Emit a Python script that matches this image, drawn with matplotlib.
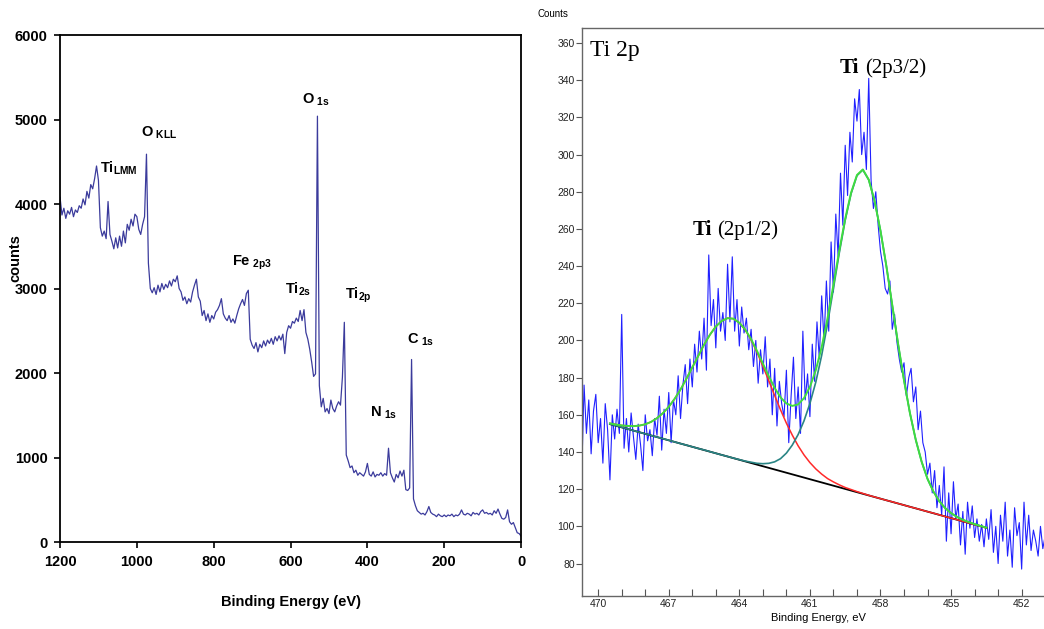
import numpy as np
import matplotlib
matplotlib.use('Agg')
import matplotlib.pyplot as plt
from matplotlib.ticker import MultipleLocator

plt.rcParams['font.family'] = ['Liberation Sans Narrow', 'Liberation Sans', 'DejaVu Sans']

# ---- survey spectrum (left), 1200 -> 0 eV every 5 eV
survey_counts = [
    4080, 3870, 3950, 3830, 3920, 3880, 3960, 3850, 3930, 3900,
    3980, 3950, 4060, 3990, 4150, 4070, 4230, 4180, 4300, 4450,
    4280, 3720, 3620, 3680, 3590, 4030, 3640, 3560, 3470, 3600,
    3480, 3620, 3500, 3680, 3540, 3760, 3690, 3820, 3740, 3880,
    3850, 3700, 3640, 3760, 3850, 4590, 3300, 3000, 2950, 3010,
    2930, 3040, 2960, 3060, 2990, 3050, 3010, 3090, 3030, 3110,
    3080, 3150, 3000, 2960, 2860, 2900, 2820, 2880, 2840, 2960,
    3040, 3110, 2900, 2850, 2680, 2740, 2620, 2700, 2600, 2680,
    2640, 2720, 2750, 2800, 2880, 2700, 2650, 2620, 2680, 2600,
    2640, 2590, 2680, 2760, 2820, 2870, 2800, 2940, 2980, 2400,
    2330, 2290, 2360, 2250, 2340, 2300, 2380, 2320, 2390, 2350,
    2410, 2340, 2430, 2380, 2440, 2390, 2460, 2230, 2480, 2560,
    2530, 2610, 2590, 2650, 2610, 2740, 2620, 2750, 2480, 2400,
    2280, 2130, 1960, 1990, 5040, 1850, 1600, 1700, 1540, 1580,
    1520, 1680, 1580, 1540, 1610, 1660, 1620, 1950, 2600, 1030,
    960, 880, 900, 820, 850, 790, 820, 800, 780, 830,
    930, 800, 780, 830, 770, 800, 790, 820, 780, 810,
    790, 1110, 820, 760, 710, 800, 760, 840, 780, 850,
    620, 610, 640, 2160, 510, 430, 370, 350, 330, 340,
    320, 360, 420, 350, 330, 320, 300, 330, 310, 300,
    320, 300, 320, 310, 330, 300, 320, 310, 330, 380,
    330, 320, 340, 330, 310, 350, 330, 340, 320, 360,
    380, 340, 350, 330, 340, 320, 370, 340, 390, 330,
    280, 270, 290, 380, 240, 210, 230, 170, 110, 100,
    70,
]
survey_energy = np.linspace(1200, 0, 241)

peak_labels = [('Ti', 'LMM', 1096, 4430), ('O', ' KLL', 989, 4840),
               ('O', ' 1s', 570, 5230), ('Fe', ' 2p3', 752, 3310),
               ('Ti', '2s', 614, 2990), ('Ti', '2p', 458, 2920),
               ('N', ' 1s', 393, 1530), ('C', ' 1s', 297, 2390)]

# ---- Ti 2p high resolution (right), 470.7 -> 451.0 eV every 0.1 eV
ti_counts = [
    128, 176, 150, 168, 139, 162, 171, 145, 158, 134,
    166, 152, 125, 160, 147, 163, 150, 214, 142, 158,
    140, 161, 148, 136, 155, 144, 130, 160, 146, 152,
    138, 158, 149, 170, 141, 163, 150, 172, 145, 168,
    160, 181, 158, 176, 187, 166, 190, 175, 198, 183,
    205, 190, 212, 184, 246, 208, 222, 196, 228, 205,
    215, 200, 241, 210, 245, 205, 222, 197, 218, 204,
    212, 195, 206, 186, 200, 177, 195, 182, 202, 175,
    190, 160, 185, 154, 178, 166, 159, 184, 145, 170,
    191, 158, 175, 150, 205, 168, 182, 159, 198, 178,
    210, 190, 224, 199, 232, 205, 253, 226, 268, 245,
    290, 262, 305, 278, 312, 296, 330, 318, 335, 300,
    312, 292, 341, 286, 271, 280, 262, 248, 240, 228,
    225, 232, 206, 214, 199, 190, 183, 188, 170, 180,
    185, 167, 175, 152, 162, 145, 140, 128, 134, 118,
    130, 110, 122, 106, 132, 92, 118, 96, 124, 104,
    112, 90, 108, 85, 113, 99, 111, 94, 104, 92,
    101, 89, 104, 93, 109, 86, 100, 80, 106, 92,
    113, 84, 98, 78, 110, 95, 102, 77, 113, 90,
    106, 87, 98, 92, 84, 100, 88, 95,
]
ti_energy = np.linspace(470.7, 451.0, 198)

# fitted curves, 469.5 -> 453.5 eV every 0.25 eV
fit_energy = np.linspace(469.5, 453.5, 65)
fit_envelope = [
    155.4, 154.8, 154.3, 154.0, 153.9, 154.2, 154.9, 156.2, 158.2, 160.9,
    164.3, 168.6, 173.6, 179.4, 185.5, 191.6, 197.7, 203.1, 207.5, 210.5,
    212.0, 211.7, 209.5, 205.9, 200.7, 194.4, 187.6, 180.8, 174.5, 169.4,
    166.1, 164.8, 165.6, 169.0, 175.0, 184.0, 196.5, 212.0, 230.0, 248.5,
    265.5, 279.5, 289.0, 292.0, 286.5, 275.0, 259.0, 240.0, 219.0, 198.0,
    178.5, 161.0, 146.5, 134.7, 125.5, 118.7, 113.5, 109.8, 107.1, 105.1,
    103.5, 102.3, 101.2, 100.2, 99.3,
]
fit_2p12 = [
    155.4, 154.8, 154.3, 154.0, 153.9, 154.2, 154.9, 156.2, 158.2, 160.9,
    164.3, 168.6, 173.6, 179.4, 185.5, 191.6, 197.7, 203.1, 207.5, 210.5,
    212.0, 211.7, 209.5, 205.7, 200.3, 193.7, 186.2, 178.4, 170.4, 162.7,
    155.5, 149.1, 143.3, 138.4, 134.3, 130.9, 128.1, 125.7, 123.9, 122.3,
    120.9, 119.8, 118.7, 117.7, 116.7, 115.8, 114.9, 114.0, 113.2, 112.3,
    111.4, 110.5, 109.7, 108.8, 107.9, 107.1, 106.2, 105.3, 104.4, 103.6,
    102.7, 101.8, 100.9, 100.1, 99.2,
]
fit_2p32 = [
    155.0, 154.2, 153.3, 152.4, 151.5, 150.6, 149.8, 148.9, 148.0, 147.2,
    146.3, 145.4, 144.5, 143.7, 142.8, 141.9, 141.1, 140.2, 139.3, 138.4,
    137.6, 136.7, 135.9, 135.1, 134.5, 133.9, 133.7, 133.9, 134.7, 136.4,
    139.4, 143.7, 149.4, 156.8, 166.1, 177.6, 192.0, 209.0, 228.0, 247.2,
    264.7, 279.0, 288.7, 291.8, 286.4, 275.0, 259.0, 240.0, 219.0, 198.0,
    178.5, 161.0, 146.5, 134.7, 125.5, 118.7, 113.5, 109.8, 107.1, 105.1,
    103.5, 102.3, 101.2, 100.2, 99.3,
]
baseline_energy = [469.5, 453.5]
baseline_counts = [155.0, 99.2]

fig = plt.figure(figsize=(10.44, 6.29), dpi=100)

# ---------------- left panel
ax1 = fig.add_axes([0.0575, 0.1383, 0.4416, 0.806])
ax1.plot(survey_energy, survey_counts, color='#3b3b9c', lw=0.9)
ax1.set_xlim(1200, 0)
ax1.set_ylim(0, 6000)
ax1.set_xticks(range(1200, -1, -200))
ax1.set_yticks(range(0, 6001, 1000))
ax1.tick_params(direction='out', length=4, width=1.2, labelsize=10.5, pad=5)
for lbl in ax1.get_xticklabels() + ax1.get_yticklabels():
    lbl.set_fontweight('bold')
for sp in ax1.spines.values():
    sp.set_linewidth(1.3)
ax1.set_xlabel('Binding Energy (eV)', fontweight='bold', fontsize=10.5)
ax1.set_ylabel('counts', fontweight='bold', fontsize=10.5)
ax1.xaxis.set_label_coords(0.5, -0.105)
ax1.yaxis.set_label_coords(-0.082, 0.56)
for main, sub, x, y in peak_labels:
    ax1.text(x, y, main + r'$_{\mathregular{' + sub.replace(' ', r'\ ') + '}}$',
             fontweight='bold', fontsize=10.5, ha='left', va='center')

# ---------------- right panel
ax2 = fig.add_axes([0.5572, 0.0518, 0.4428, 0.9037])
ax2.plot(ti_energy, ti_counts, color='#2020ff', lw=0.8)
ax2.plot(baseline_energy, baseline_counts, color='black', lw=1.3)
ax2.plot(fit_energy, fit_2p12, color='#ff2a2a', lw=1.1)
ax2.plot(fit_energy, fit_2p32, color='#2a8585', lw=1.2)
ax2.plot(fit_energy, fit_envelope, color='#3fdc3f', lw=1.4)
ax2.set_xlim(470.7, 451.05)
ax2.set_ylim(62.3, 368.1)
ax2.set_xticks([470, 467, 464, 461, 458, 455, 452])
ax2.xaxis.set_minor_locator(MultipleLocator(1))
ax2.set_yticks(range(80, 361, 20))
ax2.tick_params(axis='x', which='both', direction='in', length=5, width=0.8,
                color='#555555', labelsize=7.5, labelcolor='#222222', pad=2)
ax2.tick_params(axis='y', direction='out', length=4, width=0.8,
                color='#555555', labelsize=7.5, labelcolor='#222222', pad=1)
ax2.spines['right'].set_visible(False)
for side in ['left', 'bottom', 'top']:
    ax2.spines[side].set_color('#666666')
    ax2.spines[side].set_linewidth(1.0)
ax2.set_xlabel('Binding Energy, eV', fontsize=8)
ax2.xaxis.set_label_coords(0.511, -0.029)
fig.text(553 / 1044, 1 - 14 / 629, 'Counts', fontsize=7, ha='center', va='center')

serif = ['Liberation Serif', 'DejaVu Serif']
ax2.text(470.35, 356.2, 'Ti 2p', family=serif, fontsize=17, ha='left', va='center')
ax2.text(458.9, 346.6, 'Ti', family=serif, fontsize=15, fontweight='bold',
         ha='right', va='center')
ax2.text(458.65, 346.6, '(2p3/2)', family=serif, fontsize=15, ha='left', va='center')
ax2.text(465.17, 259.4, 'Ti', family=serif, fontsize=15, fontweight='bold',
         ha='right', va='center')
ax2.text(464.95, 259.4, '(2p1/2)', family=serif, fontsize=15, ha='left', va='center')

fig.savefig('out.png', dpi=100)
